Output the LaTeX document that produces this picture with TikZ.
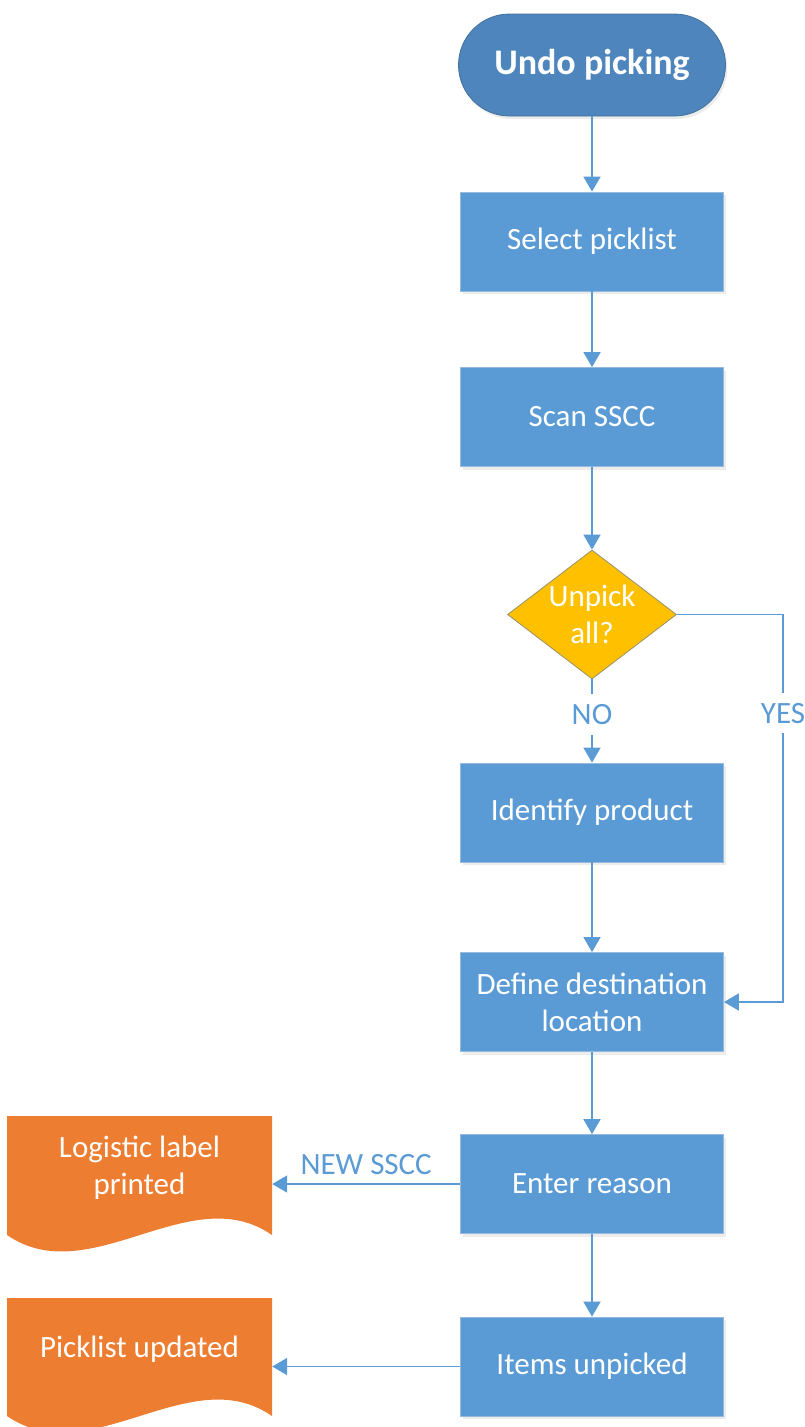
\documentclass[tikz,border=0pt]{standalone}
\usepackage{fontspec}
\setmainfont{Carlito}
\usetikzlibrary{shapes.geometric,arrows.meta,shadows}

\definecolor{procblue}{RGB}{91,155,213}
\definecolor{procedge}{RGB}{150,185,222}
\definecolor{termblue}{RGB}{78,133,189}
\definecolor{termedge}{RGB}{65,113,156}
\definecolor{decyellow}{RGB}{255,192,0}
\definecolor{decedge}{RGB}{150,145,110}
\definecolor{docorange}{RGB}{237,125,49}
\definecolor{flowblue}{RGB}{91,155,213}

\begin{document}
\begin{tikzpicture}[x=1pt,y=-1pt,
  every node/.style={font=\fontsize{31}{37}\selectfont, text=white},
  terminal/.style={rectangle, rounded corners=51pt, minimum width=267pt,
    minimum height=102pt, fill=termblue, draw=termedge, line width=0.8pt,
    font=\fontsize{36}{40}\selectfont\bfseries,
    drop shadow={opacity=0.15, shadow xshift=2pt, shadow yshift=-3pt}},
  process/.style={rectangle, minimum width=263pt, minimum height=99pt,
    fill=procblue, draw=procedge, line width=0.8pt, align=center,
    drop shadow={opacity=0.15, shadow xshift=2pt, shadow yshift=-3pt}},
  decision/.style={diamond, minimum width=169pt, minimum height=129pt,
    inner sep=0pt, aspect=1.31, fill=decyellow, draw=decedge, line width=0.8pt},
  flow/.style={draw=flowblue, line width=1.8pt, -{Triangle[width=17pt,length=15pt]}},
  tag/.style={text=flowblue, fill=white, inner sep=10pt},
  doctext/.style={align=center, minimum width=265pt, inner sep=0pt}
]
\useasboundingbox (0,0) rectangle (805,1427);
\clip (0,0) rectangle (805,1427);

% main column
\node[terminal] (start) at (592,65) {Undo picking};
\node[process] (sel) at (592,241.5) {Select picklist};
\node[process] (scan) at (592,417) {Scan SSCC};
\node[decision] (dia) at (592,614.5) {};
\node[align=center] (diatxt) at (dia.center) {Unpick\\all?};
\node[process] (ident) at (592,812.5) {Identify product};
\node[process] (def) at (592,1002) {Define destination\\location};
\node[process] (enter) at (592,1184) {Enter reason};
\node[process] (items) at (592,1366.5) {Items unpicked};

% output documents (wavy bottom edge)
\fill[docorange] (7,1116) -- (272,1116) -- (272,1235)
  .. controls (190,1178) and (90,1292) .. (7,1235) -- cycle;
\node[doctext] (doc1) at (139.5,1168) {Logistic label\\printed};
\fill[docorange] (7,1298) -- (272,1298) -- (272,1416)
  .. controls (190,1359) and (90,1473) .. (7,1416) -- cycle;
\node[doctext] (doc2) at (139.5,1349) {Picklist updated};

% connectors
\draw[flow] (start) -- (sel);
\draw[flow] (sel) -- (scan);
\draw[flow] (scan) -- (dia);
\draw[flow] (dia) -- node[tag, pos=0.42] (no) {NO} (ident);
\coordinate (yc) at (783,614.5);
\draw[flow] (dia.east) -- (yc) -- node[tag, pos=0.255] (yes) {YES} (yc |- def.east) -- (def.east);
\draw[flow] (ident) -- (def);
\draw[flow] (def) -- (enter);
\draw[flow] (enter) -- (items);
\draw[flow] (enter.west) -- node[above=5pt, text=flowblue] (newsscc) {NEW SSCC} (enter.west -| doc1.east);
\draw[flow] (items.west) -- (items.west -| doc2.east);
\end{tikzpicture}
\end{document}
